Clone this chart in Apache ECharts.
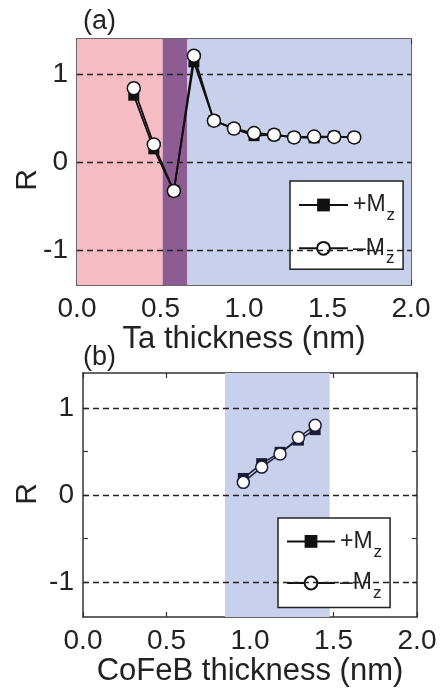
<!DOCTYPE html>
<html>
<head>
<meta charset="utf-8">
<script src="https://cdn.jsdelivr.net/npm/echarts@6/dist/echarts.min.js"></script>
<style>
html,body{margin:0;padding:0;background:#fff;}
#c{width:443px;height:688px;}
</style>
</head>
<body>
<div id="c"></div>
<script>
// ---- data ----
var taX = [0.34, 0.46, 0.58, 0.70, 0.82, 0.94, 1.06, 1.18, 1.30, 1.42, 1.54, 1.66];
var taPlus = [0.76, 0.15, -0.33, 1.14, 0.47, 0.38, 0.30, 0.31, 0.28, 0.275, 0.29, 0.28];
var taMinus = [0.84, 0.20, -0.33, 1.21, 0.47, 0.38, 0.33, 0.31, 0.28, 0.29, 0.285, 0.28];

var cfbX = [0.96, 1.07, 1.18, 1.29, 1.39];
var cfbPlus = [0.19, 0.36, 0.49, 0.63, 0.75];
var cfbMinus = [0.145, 0.32, 0.47, 0.66, 0.80];

var taRedRange = [0, 0.513];
var taPurpleRange = [0.513, 0.661];
var taBlueRange = [0.661, 2.0];
var cfbBlueRange = [0.85, 1.477];

var refLines = [-1, 0, 1];
var yTickVals = [-1, -0.5, 0, 0.5, 1];
var yLabelVals = [-1, 0, 1];
var seriesNames = ['+Mz', '-Mz'];

// ---- chart ----
var FONT = "'Liberation Sans', Arial, Helvetica, sans-serif";
var AX = '#333';
function pairs(xs, ys) { return xs.map(function (x, i) { return [x, ys[i]]; }); }

function xAx(grid, pos, name, gap) {
  return {
    type: 'value', gridIndex: grid, position: pos, min: 0, max: 2, interval: 0.5,
    name: name, nameLocation: 'middle', nameGap: gap,
    nameTextStyle: { fontSize: 31, fontFamily: FONT, color: '#222' },
    axisLine: { show: true, onZero: false, lineStyle: { color: AX, width: 1.5 } },
    axisTick: { show: true, inside: true, length: 5, lineStyle: { color: AX, width: 1.2 } },
    axisLabel: { show: pos === 'bottom', margin: 10, fontSize: 28, fontFamily: FONT, color: '#222',
      formatter: function (v) { return v.toFixed(1); } },
    splitLine: { show: false }
  };
}
function yAx(grid, pos) {
  return {
    type: 'value', gridIndex: grid, position: pos, min: -1.4, max: 1.4,
    axisLine: { show: true, onZero: false, lineStyle: { color: AX, width: 1.5 } },
    axisTick: { show: true, inside: true, length: 5, customValues: yTickVals, lineStyle: { color: AX, width: 1.2 } },
    axisLabel: { show: pos === 'left', margin: 9, fontSize: 28, fontFamily: FONT, color: '#222', customValues: yLabelVals,
      formatter: function (v) { return String(Math.round(v)); } },
    splitLine: { show: false }
  };
}

var rich = {
  m: { fontSize: 23, fontFamily: FONT, color: '#222', lineHeight: 38 },
  z: { fontSize: 17, fontFamily: FONT, color: '#222', lineHeight: 17, padding: [21, 0, 0, 1] }
};
function legFmt(n) { return n === '+Mz' ? '{m|+M}{z|z}' : '{m|\u2013M}{z|z}'; }

var dash = { type: [6, 4], color: '#222', width: 1.4 };
function markLines() {
  return { silent: true, symbol: 'none', label: { show: false }, lineStyle: dash,
    data: refLines.map(function (v) { return { yAxis: v }; }) };
}

var option = {
  animation: false,
  backgroundColor: '#fff',
  textStyle: { fontFamily: FONT },
  grid: [
    { left: 77, top: 39, width: 334, height: 246 },
    { left: 83, top: 373, width: 334, height: 244 }
  ],
  xAxis: [
    xAx(0, 'bottom', 'Ta thickness (nm)', 26),
    xAx(0, 'top', '', 0),
    xAx(1, 'bottom', 'CoFeB thickness (nm)', 33),
    xAx(1, 'top', '', 0)
  ],
  yAxis: [yAx(0, 'left'), yAx(0, 'right'), yAx(1, 'left'), yAx(1, 'right')],
  legend: [
    { orient: 'vertical', left: 290, top: 181, backgroundColor: '#fff', borderColor: '#222', borderWidth: 1.5,
      borderRadius: 0, padding: [5, 8, 2, 8], itemWidth: 49, itemHeight: 16, itemGap: 5.3,
      data: seriesNames, formatter: legFmt, textStyle: { fontFamily: FONT, rich: rich }, selectedMode: false },
    { orient: 'vertical', left: 278, top: 518, backgroundColor: '#fff', borderColor: '#222', borderWidth: 1.5,
      borderRadius: 0, padding: [4.4, 8, 5.4, 8], itemWidth: 48, itemHeight: 16, itemGap: 3.6,
      data: seriesNames, formatter: legFmt, textStyle: { fontFamily: FONT, rich: rich }, selectedMode: false }
  ],
  graphic: [
    { type: 'text', left: 83, top: 8, style: { text: '(a)', fontSize: 27, fontFamily: FONT, fill: '#222' } },
    { type: 'text', left: 83, top: 344, style: { text: '(b)', fontSize: 27, fontFamily: FONT, fill: '#222' } },
    { type: 'text', x: 28, y: 180, rotation: Math.PI / 2,
      style: { text: 'R', fontSize: 30, fontFamily: FONT, fill: '#222', align: 'center', verticalAlign: 'middle' } },
    { type: 'text', x: 28, y: 494, rotation: Math.PI / 2,
      style: { text: 'R', fontSize: 30, fontFamily: FONT, fill: '#222', align: 'center', verticalAlign: 'middle' } }
  ],
  series: [
    { name: '+Mz', type: 'line', xAxisIndex: 0, yAxisIndex: 0, data: pairs(taX, taPlus),
      symbol: 'rect', symbolSize: 11, itemStyle: { color: '#111' }, lineStyle: { color: '#111', width: 1.8 },
      emphasis: { disabled: true }, z: 3,
      markArea: { silent: true, data: [
        [{ xAxis: taRedRange[0], itemStyle: { color: '#f6bcc4' } }, { xAxis: taRedRange[1] }],
        [{ xAxis: taPurpleRange[0], itemStyle: { color: '#8d5c93' } }, { xAxis: taPurpleRange[1] }],
        [{ xAxis: taBlueRange[0], itemStyle: { color: '#c9d0ec' } }, { xAxis: taBlueRange[1] }]
      ] },
      markLine: markLines() },
    { name: '-Mz', type: 'line', xAxisIndex: 0, yAxisIndex: 0, data: pairs(taX, taMinus),
      symbol: 'circle', symbolSize: 13, itemStyle: { color: '#fff', borderColor: '#111', borderWidth: 1.5 },
      lineStyle: { color: '#111', width: 1.8 }, emphasis: { disabled: true }, z: 4 },
    { name: '+Mz', type: 'line', xAxisIndex: 2, yAxisIndex: 2, data: pairs(cfbX, cfbPlus),
      symbol: 'rect', symbolSize: 11, itemStyle: { color: '#1b1d36' }, lineStyle: { color: '#1b1d36', width: 1.5 },
      emphasis: { disabled: true }, z: 3,
      markArea: { silent: true, data: [
        [{ xAxis: cfbBlueRange[0], itemStyle: { color: '#c9d0ec' } }, { xAxis: cfbBlueRange[1] }]
      ] },
      markLine: markLines() },
    { name: '-Mz', type: 'line', xAxisIndex: 2, yAxisIndex: 2, data: pairs(cfbX, cfbMinus),
      symbol: 'circle', symbolSize: 12, itemStyle: { color: '#fff', borderColor: '#1b1d36', borderWidth: 1.5 },
      lineStyle: { color: '#1b1d36', width: 1.5 }, emphasis: { disabled: true }, z: 4 }
  ]
};
var chart = echarts.init(document.getElementById('c'), null, { renderer: 'canvas' });
chart.setOption(option);
</script>
</body>
</html>
